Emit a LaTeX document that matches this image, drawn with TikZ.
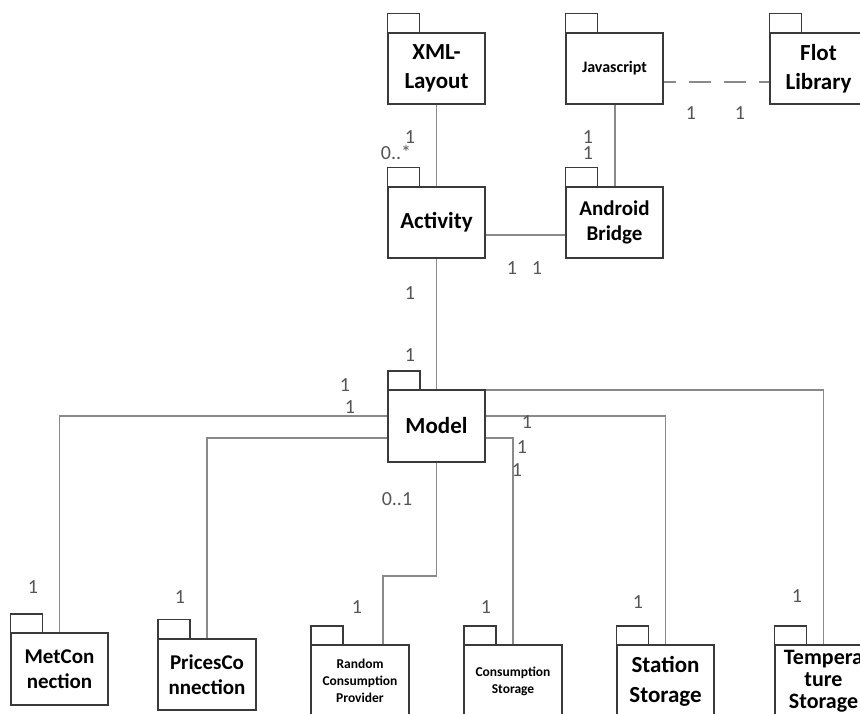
\documentclass[tikz,border=0pt]{standalone}
\usepackage{fontspec}
\setmainfont{Carlito}
\usetikzlibrary{calc}
\definecolor{boxc}{HTML}{3A3A3A}
\definecolor{linec}{HTML}{8A8A8A}
\definecolor{lblc}{HTML}{555555}
\begin{document}
\begin{tikzpicture}[x=1pt,y=-1pt,
  pkg/.style={draw=boxc, line width=1.1pt, fill=white, minimum width=97pt, minimum height=71pt,
              inner sep=0pt, align=center, text=black},
  tab/.style={draw=boxc, line width=1.1pt},
  conn/.style={draw=linec, line width=1.4pt},
  lbl/.style={text=lblc, font=\fontsize{20}{22}\selectfont, inner sep=0pt}]
\useasboundingbox (0,0) rectangle (860,713);
\clip (0,0) rectangle (860,713);
\fill[white] (0,0) rectangle (860,713);

% packages
\node[pkg, font=\bfseries\fontsize{23}{29}\selectfont] (xml) at (436.5,68.5) {XML-\\Layout};
\node[pkg, font=\bfseries\fontsize{16}{20}\selectfont] (js) at (614.5,68.5) {Javascript};
\node[pkg, font=\bfseries\fontsize{23}{29}\selectfont] (flot) at (818.5,68.5) {Flot\\Library};
\node[pkg, font=\bfseries\fontsize{23}{29}\selectfont] (act) at (436.5,222.5) {Activity};
\node[pkg, font=\bfseries\fontsize{21}{25}\selectfont] (ab) at (614.5,222.5) {Android\\Bridge};
\node[pkg, minimum width=96pt, font=\bfseries\fontsize{23}{29}\selectfont] (model) at (436.5,426) {Model};
\node[pkg, font=\bfseries\fontsize{21}{25}\selectfont] (met) at (59.5,669) {MetCon\\nection};
\node[pkg, font=\bfseries\fontsize{21}{25}\selectfont] (pri) at (207,674.5) {PricesCo\\nnection};
\node[pkg, font=\bfseries\fontsize{13.5}{17}\selectfont] (rnd) at (360,681) {Random\\Consumption\\Provider};
\node[pkg, font=\bfseries\fontsize{13.5}{17}\selectfont] (cons) at (513,681) {Consumption\\Storage};
\node[pkg, font=\bfseries\fontsize{23}{30}\selectfont] (sta) at (665.5,681) {Station\\Storage};
\node[pkg, font=\bfseries\fontsize{22}{22}\selectfont] (tmp) at (823.5,681) {Tempera\\ture\\Storage};

% tabs
\foreach \n in {xml,js,flot,act,ab,model,met,pri,rnd,cons,sta,tmp}
  \draw[tab] (\n.north west) rectangle ++(32pt,19pt);

% connectors
\draw[conn] (xml) -- (act);
\draw[conn] ([xshift=0.5pt]js.south) -- ([xshift=0.5pt]ab.north);
\draw[conn, dash pattern=on 22pt off 13pt, dash phase=10pt] ([yshift=-13.5pt]js.east) -- ([yshift=-13.5pt]flot.west);
\draw[conn] ([yshift=-12.5pt]act.east) -- ([yshift=-12.5pt]ab.west);
\draw[conn] (act) -- (model);
\draw[conn] (model.north east) -| (tmp.north);
\draw[conn] ([yshift=10pt]model.west) -| (met.north);
\draw[conn] ([yshift=10pt]model.east) -| (sta.north);
\draw[conn] ([yshift=-12pt]model.west) -| (pri.north);
\draw[conn] ([yshift=-12pt]model.east) -| (cons.north);
\coordinate (rbend) at (436.5,576);
\draw[conn] (model) -- (rbend) -| ([xshift=23pt]rnd.north);

% redraw box borders over connector ends
\foreach \n in {xml,js,flot,act,ab,model,met,pri,rnd,cons,sta,tmp}
  \draw[boxc, line width=1.1pt] (\n.north west) rectangle (\n.south east);

% multiplicity labels
\node[lbl] (m1) at (410,137) {1};
\node[lbl] (m2) at (396,152) {0..*};
\node[lbl] (m3) at (588,137) {1};
\node[lbl] (m4) at (588,153) {1};
\node[lbl] (m5) at (691,113) {1};
\node[lbl] (m6) at (740,113) {1};
\node[lbl] (m7) at (512,268) {1};
\node[lbl] (m8) at (537,268) {1};
\node[lbl] (m9) at (410,293) {1};
\node[lbl] (m10) at (410,355) {1};
\node[lbl] (m11) at (345,385) {1};
\node[lbl] (m12) at (350,407) {1};
\node[lbl] (m13) at (527,422) {1};
\node[lbl] (m14) at (522,447) {1};
\node[lbl] (m15) at (517,470) {1};
\node[lbl] (m16) at (397,499) {0..1};
\node[lbl] (m17) at (33,587) {1};
\node[lbl] (m18) at (180,597) {1};
\node[lbl] (m19) at (357,607) {1};
\node[lbl] (m20) at (486,607) {1};
\node[lbl] (m21) at (638,602) {1};
\node[lbl] (m22) at (797,596) {1};
\end{tikzpicture}
\end{document}
